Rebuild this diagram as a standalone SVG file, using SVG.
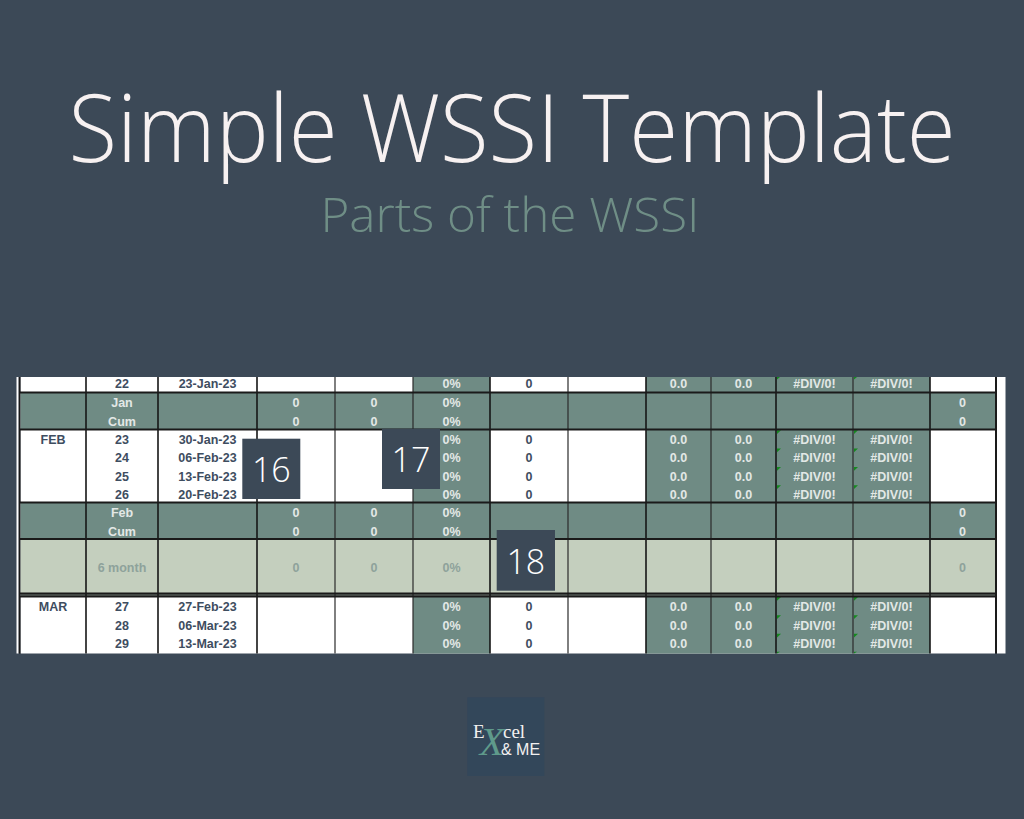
<svg xmlns="http://www.w3.org/2000/svg" width="1024" height="819" viewBox="0 0 1024 819">
<defs>
<style>
.bg{fill:#3c4957}
.w{fill:#ffffff}
.gc{fill:#6f8b84}
.lc{fill:#c4cfbe}
.vl{stroke:#161616;stroke-width:1.6}
.vt{stroke:#2a2a2a;stroke-width:1.2}
.hl{stroke:#1a1a1a;stroke-width:1.8}
.t{font-family:"Liberation Sans",Arial,sans-serif;font-weight:bold;font-size:12.5px;text-anchor:middle}
.d{fill:#3e4d5f}
.g{fill:#e3e8e6}
.s{fill:#8ea29b}
.tri{fill:#15891f}
.nb{fill:#3c4957}
.nt{font-family:"Open Sans","Liberation Sans",sans-serif;font-weight:300;font-size:34px;fill:#ffffff;text-anchor:middle}
</style>
</defs>
<rect class="bg" x="0" y="0" width="1024" height="819"/>

<g id="title">
<text x="512" y="162" font-family="'Open Sans','Liberation Sans',sans-serif" font-weight="350" font-size="94" fill="#f7f1f1" text-anchor="middle" textLength="887" lengthAdjust="spacingAndGlyphs">Simple WSSI Template</text>
<text x="510" y="232" font-family="'Open Sans','Liberation Sans',sans-serif" font-weight="350" font-size="48" fill="#6f8e86" text-anchor="middle" textLength="379" lengthAdjust="spacingAndGlyphs">Parts of the WSSI</text>
</g>

<g id="table">
<rect class="w" x="16.5" y="377" width="2.2" height="276.5"/>
<rect fill="#1a1a1a" x="18.7" y="377" width="2" height="276.5"/>
<rect fill="#1a1a1a" x="995" y="377" width="2" height="276.5"/>
<rect class="w" x="997" y="377" width="8.5" height="276.5"/>
<rect class="w" x="20.7" y="377" width="974.3" height="276.5"/>
<rect class="gc" x="413" y="377" width="77" height="276.5"/>
<rect class="gc" x="646" y="377" width="284" height="276.5"/>
<rect class="gc" x="20.7" y="392.5" width="974.3" height="37"/>
<rect class="gc" x="20.7" y="502.5" width="974.3" height="36.5"/>
<rect class="lc" x="20.7" y="539" width="974.3" height="54.5"/>
<rect fill="#6c7670" x="20.7" y="593.5" width="974.3" height="3"/>
<g id="error-marks">
<polygon class="tri" points="777,377 780,377 777,379.5"/>
<polygon class="tri" points="854,377 857,377 854,379.5"/>
<polygon class="tri" points="777,430.3 781,430.3 777,434"/>
<polygon class="tri" points="854,430.3 858,430.3 854,434"/>
<polygon class="tri" points="777,448.6 781,448.6 777,452.3"/>
<polygon class="tri" points="854,448.6 858,448.6 854,452.3"/>
<polygon class="tri" points="777,467 781,467 777,470.7"/>
<polygon class="tri" points="854,467 858,467 854,470.7"/>
<polygon class="tri" points="777,485.3 781,485.3 777,489"/>
<polygon class="tri" points="854,485.3 858,485.3 854,489"/>
<polygon class="tri" points="777,597 781,597 777,600.7"/>
<polygon class="tri" points="854,597 858,597 854,600.7"/>
<polygon class="tri" points="777,615.3 781,615.3 777,619"/>
<polygon class="tri" points="854,615.3 858,615.3 854,619"/>
<polygon class="tri" points="777,633.7 781,633.7 777,637.4"/>
<polygon class="tri" points="854,633.7 858,633.7 854,637.4"/>
<polygon class="tri" points="777,651.8 780,651.8 777,653.5"/>
<polygon class="tri" points="854,651.8 857,651.8 854,653.5"/>
</g>
<g id="grid">
<line class="vl" x1="86" y1="377" x2="86" y2="653.5"/>
<line class="vl" x1="158" y1="377" x2="158" y2="653.5"/>
<line class="vl" x1="257" y1="377" x2="257" y2="653.5"/>
<line class="vt" x1="335" y1="377" x2="335" y2="653.5"/>
<line class="vt" x1="413" y1="377" x2="413" y2="653.5"/>
<line class="vl" x1="490" y1="377" x2="490" y2="653.5"/>
<line class="vt" x1="568" y1="377" x2="568" y2="653.5"/>
<line class="vl" x1="646" y1="377" x2="646" y2="653.5"/>
<line class="vt" x1="711" y1="377" x2="711" y2="653.5"/>
<line class="vl" x1="776" y1="377" x2="776" y2="653.5"/>
<line class="vt" x1="853" y1="377" x2="853" y2="653.5"/>
<line class="vl" x1="930" y1="377" x2="930" y2="653.5"/>
<line class="hl" x1="20" y1="392.5" x2="995" y2="392.5"/>
<line class="hl" x1="20" y1="429.5" x2="995" y2="429.5"/>
<line class="hl" x1="20" y1="502.5" x2="995" y2="502.5"/>
<line class="hl" x1="20" y1="539" x2="995" y2="539"/>
<line class="hl" x1="20" y1="593.5" x2="995" y2="593.5"/>
<line class="hl" x1="20" y1="596.5" x2="995" y2="596.5"/>
</g>
<g id="row22" class="t">
<text class="d" x="122" y="388">22</text>
<text class="d" x="207.5" y="388">23-Jan-23</text>
<text class="g" x="451.5" y="388">0%</text>
<text class="d" x="529" y="388">0</text>
<text class="g" x="678.5" y="388">0.0</text>
<text class="g" x="743.5" y="388">0.0</text>
<text class="g" x="814.5" y="388">#DIV/0!</text>
<text class="g" x="891.5" y="388">#DIV/0!</text>
</g>
<g id="jan-band" class="t">
<text class="g" x="122" y="407">Jan</text>
<text class="g" x="122" y="425.5">Cum</text>
<text class="g" x="296" y="407">0</text>
<text class="g" x="296" y="425.5">0</text>
<text class="g" x="374" y="407">0</text>
<text class="g" x="374" y="425.5">0</text>
<text class="g" x="451.5" y="407">0%</text>
<text class="g" x="451.5" y="425.5">0%</text>
<text class="g" x="962.5" y="407">0</text>
<text class="g" x="962.5" y="425.5">0</text>
</g>
<g id="feb-rows" class="t">
<text class="d" x="53" y="443.8">FEB</text>
<text class="d" x="122" y="443.8">23</text>
<text class="d" x="122" y="462.2">24</text>
<text class="d" x="122" y="480.5">25</text>
<text class="d" x="122" y="498.8">26</text>
<text class="d" x="207.5" y="443.8">30-Jan-23</text>
<text class="d" x="207.5" y="462.2">06-Feb-23</text>
<text class="d" x="207.5" y="480.5">13-Feb-23</text>
<text class="d" x="207.5" y="498.8">20-Feb-23</text>
<text class="g" x="451.5" y="443.8">0%</text>
<text class="g" x="451.5" y="462.2">0%</text>
<text class="g" x="451.5" y="480.5">0%</text>
<text class="g" x="451.5" y="498.8">0%</text>
<text class="d" x="529" y="443.8">0</text>
<text class="d" x="529" y="462.2">0</text>
<text class="d" x="529" y="480.5">0</text>
<text class="d" x="529" y="498.8">0</text>
<text class="g" x="678.5" y="443.8">0.0</text>
<text class="g" x="678.5" y="462.2">0.0</text>
<text class="g" x="678.5" y="480.5">0.0</text>
<text class="g" x="678.5" y="498.8">0.0</text>
<text class="g" x="743.5" y="443.8">0.0</text>
<text class="g" x="743.5" y="462.2">0.0</text>
<text class="g" x="743.5" y="480.5">0.0</text>
<text class="g" x="743.5" y="498.8">0.0</text>
<text class="g" x="814.5" y="443.8">#DIV/0!</text>
<text class="g" x="814.5" y="462.2">#DIV/0!</text>
<text class="g" x="814.5" y="480.5">#DIV/0!</text>
<text class="g" x="814.5" y="498.8">#DIV/0!</text>
<text class="g" x="891.5" y="443.8">#DIV/0!</text>
<text class="g" x="891.5" y="462.2">#DIV/0!</text>
<text class="g" x="891.5" y="480.5">#DIV/0!</text>
<text class="g" x="891.5" y="498.8">#DIV/0!</text>
</g>
<g id="feb-band" class="t">
<text class="g" x="122" y="517.2">Feb</text>
<text class="g" x="122" y="535.5">Cum</text>
<text class="g" x="296" y="517.2">0</text>
<text class="g" x="296" y="535.5">0</text>
<text class="g" x="374" y="517.2">0</text>
<text class="g" x="374" y="535.5">0</text>
<text class="g" x="451.5" y="517.2">0%</text>
<text class="g" x="451.5" y="535.5">0%</text>
<text class="g" x="962.5" y="517.2">0</text>
<text class="g" x="962.5" y="535.5">0</text>
</g>
<g id="six-month" class="t">
<text class="s" x="122" y="572">6 month</text>
<text class="s" x="296" y="572">0</text>
<text class="s" x="374" y="572">0</text>
<text class="s" x="451.5" y="572">0%</text>
<text class="s" x="962.5" y="572">0</text>
</g>
<g id="mar-rows" class="t">
<text class="d" x="53" y="611.2">MAR</text>
<text class="d" x="122" y="611.2">27</text>
<text class="d" x="122" y="629.5">28</text>
<text class="d" x="122" y="647.8">29</text>
<text class="d" x="207.5" y="611.2">27-Feb-23</text>
<text class="d" x="207.5" y="629.5">06-Mar-23</text>
<text class="d" x="207.5" y="647.8">13-Mar-23</text>
<text class="g" x="451.5" y="611.2">0%</text>
<text class="g" x="451.5" y="629.5">0%</text>
<text class="g" x="451.5" y="647.8">0%</text>
<text class="d" x="529" y="611.2">0</text>
<text class="d" x="529" y="629.5">0</text>
<text class="d" x="529" y="647.8">0</text>
<text class="g" x="678.5" y="611.2">0.0</text>
<text class="g" x="678.5" y="629.5">0.0</text>
<text class="g" x="678.5" y="647.8">0.0</text>
<text class="g" x="743.5" y="611.2">0.0</text>
<text class="g" x="743.5" y="629.5">0.0</text>
<text class="g" x="743.5" y="647.8">0.0</text>
<text class="g" x="814.5" y="611.2">#DIV/0!</text>
<text class="g" x="814.5" y="629.5">#DIV/0!</text>
<text class="g" x="814.5" y="647.8">#DIV/0!</text>
<text class="g" x="891.5" y="611.2">#DIV/0!</text>
<text class="g" x="891.5" y="629.5">#DIV/0!</text>
<text class="g" x="891.5" y="647.8">#DIV/0!</text>
</g>
</g>

<g id="marker-16">
<rect class="nb" x="242.3" y="438.7" width="58" height="60.3"/>
<text class="nt" x="271.3" y="481.5">16</text>
</g>
<g id="marker-17">
<rect class="nb" x="382" y="428.7" width="58" height="60.3"/>
<text class="nt" x="411" y="471.5">17</text>
</g>
<g id="marker-18">
<rect class="nb" x="496.7" y="530" width="58.3" height="60.7"/>
<text class="nt" x="525.8" y="573.5">18</text>
</g>

<g id="logo">
<rect x="467.3" y="697.3" width="77" height="78.7" fill="#33475a"/>
<text x="492" y="755" font-family="'Liberation Serif',serif" font-style="italic" font-size="40" fill="#5f9a8b" text-anchor="middle">X</text>
<text x="473" y="738" font-family="'Liberation Serif',serif" font-size="19" fill="#f2f0f0">E</text>
<text x="503" y="738" font-family="'Liberation Serif',serif" font-size="19" fill="#f2f0f0">cel</text>
<text x="501" y="755" font-family="'Liberation Sans',sans-serif" font-size="16" fill="#f2f0f0">&amp; ME</text>
</g>
</svg>
